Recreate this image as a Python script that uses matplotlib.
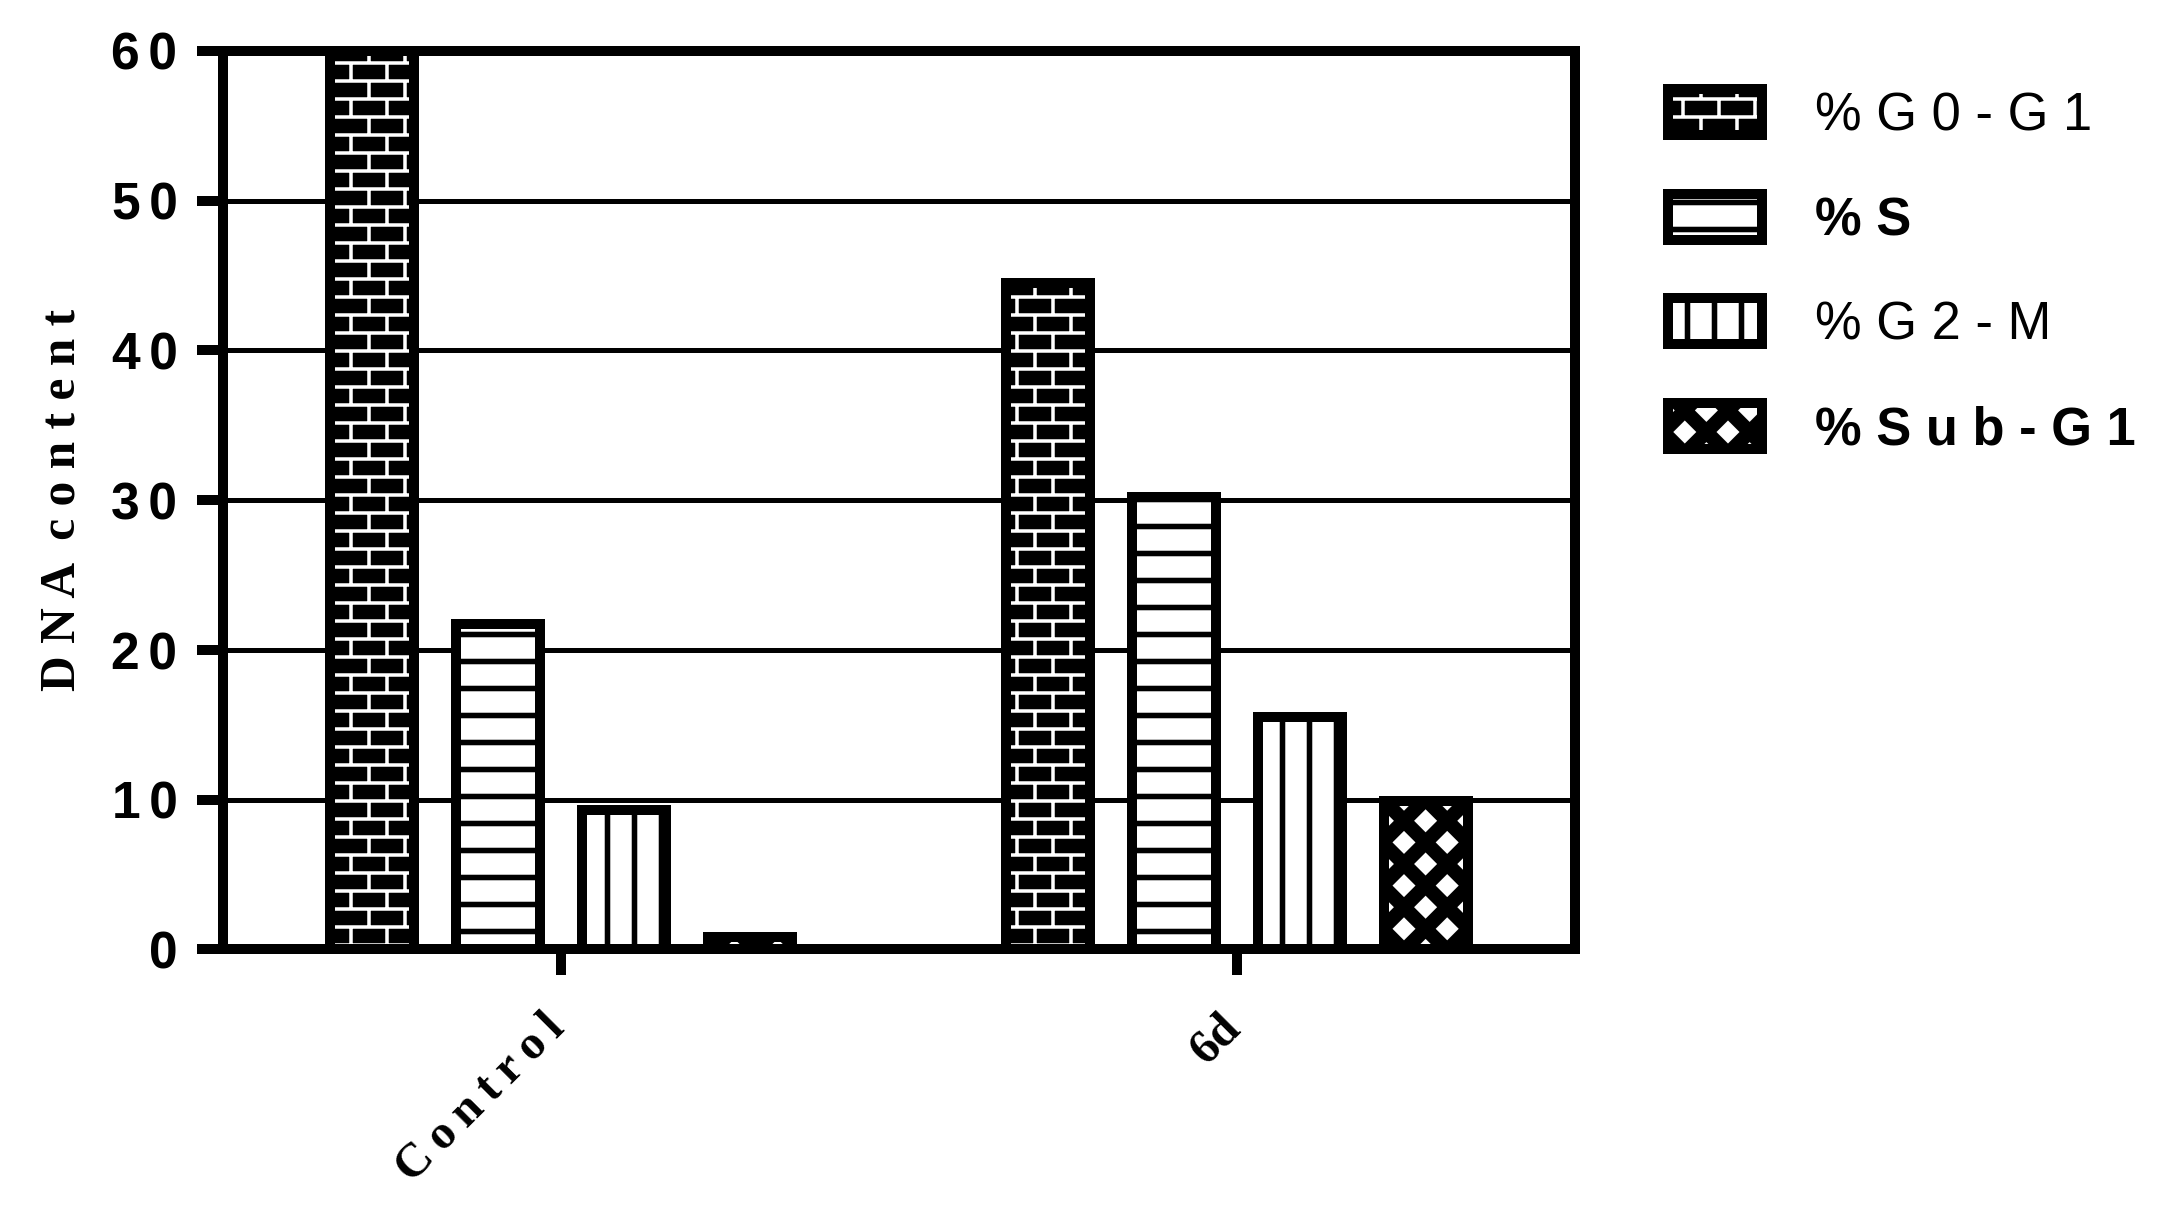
import warnings
import numpy as np
import matplotlib
matplotlib.use('Agg')
import matplotlib.pyplot as plt
from matplotlib import hatch as mhatch
from matplotlib.path import Path
from matplotlib.transforms import ScaledTranslation

warnings.filterwarnings('ignore', message='.*hatch.*')

# ---------------- data ----------------
groups = ['C\u2009o\u2009n\u2009t\u2009r\u2009o\u2009l', '6d']
series = ['% G 0 - G 1', '% S', '% G 2 - M', '% S u b - G 1']
g0g1 = [60.0, 44.5]
s_phase = [21.7, 30.2]
g2m = [9.3, 15.5]
subg1 = [0.8, 9.9]
y_ticks = [0, 10, 20, 30, 40, 50, 60]
y_tick_labels = ['0', '1\u20060', '2\u20060', '3\u20060', '4\u20060', '5\u20060', '6\u20060']
y_label = 'D N A  c o n t e n t'

# ---------------- custom hatch patterns ----------------
DPI = 216
TILE = float(DPI)


def _rect(x0, y0, x1, y1):
    return [(x0, y0), (x1, y0), (x1, y1), (x0, y1)]


class _PolyHatch(mhatch.HatchPatternBase):
    key = ''

    def __init__(self, hatch, density):
        self.polys = self.build() if (hatch and self.key in hatch) else []
        self.num_vertices = sum(len(p) + 1 for p in self.polys)

    def build(self):
        return []

    def set_vertices_and_codes(self, vertices, codes):
        i = 0
        for p in self.polys:
            n = len(p)
            vertices[i:i + n] = p
            vertices[i + n] = p[0]
            codes[i] = Path.MOVETO
            codes[i + 1:i + n] = Path.LINETO
            codes[i + n] = Path.CLOSEPOLY
            i += n + 1


class BrickHatch(_PolyHatch):
    key = 'B'

    def build(self):
        rows, cols = 12, 6
        h = 1.75 / TILE
        polys = []
        for j in range(rows + 1):
            y = (j + 0.5) / rows
            polys.append(_rect(-0.01, y - h, 1.01, y + h))
        for j in range(-1, rows):
            y0 = (j + 0.5) / rows
            y1 = (j + 1.5) / rows
            off = 0.5 * (j % 2)
            for i in range(-1, cols + 1):
                xx = (i + off + 0.25) / cols
                polys.append(_rect(xx - h, y0, xx + h, y1))
        return polys


class HLineHatch(_PolyHatch):
    key = 'H'

    def build(self):
        n, h = 8, 2.75 / TILE
        return [_rect(-0.01, (k + 0.5) / n - h, 1.01, (k + 0.5) / n + h) for k in range(n)]


class VLineHatch(_PolyHatch):
    key = 'V'

    def build(self):
        n, h = 8, 2.75 / TILE
        return [_rect((k + 0.5) / n - h, -0.01, (k + 0.5) / n + h, 1.01) for k in range(n)]


class DiamondHatch(_PolyHatch):
    key = 'D'

    def build(self):
        n, r = 5, 11.5 / TILE
        polys = []
        for i in range(-1, n + 1):
            for j in range(-1, n + 1):
                for cx, cy in ((i / n, j / n), ((i + 0.5) / n, (j + 0.5) / n)):
                    polys.append([(cx + r, cy), (cx, cy + r), (cx - r, cy), (cx, cy - r)])
        return polys


mhatch._hatch_types.extend([BrickHatch, HLineHatch, VLineHatch, DiamondHatch])

plt.rcParams['hatch.linewidth'] = 0.01
plt.rcParams['font.family'] = ['Liberation Sans', 'DejaVu Sans']

# ---------------- figure ----------------
fig = plt.figure(figsize=(2169.2 / DPI, 1210.2 / DPI), dpi=DPI)
ax = fig.add_axes([0.1028, 0.2153, 0.6233, 0.7426])

EDGE_LW = 3.33
x = np.arange(len(groups))
step = 0.1864
width = 0.1243
styles = [('black', 'white', 'B'), ('white', 'black', 'H'),
          ('white', 'black', 'V'), ('black', 'white', 'D')]
handles = []
for k, (vals, (fc, hc, hp)) in enumerate(zip([g0g1, s_phase, g2m, subg1], styles)):
    pos = x + (k - 1.5) * step
    fill = ax.bar(pos, vals, width, facecolor=fc, edgecolor=hc, linewidth=0,
                  hatch=hp, zorder=2)
    edge = ax.bar(pos, vals, width, fill=False, edgecolor='black',
                  linewidth=EDGE_LW, zorder=2.2)
    handles.append((fill.patches[0], edge.patches[0]))

ax.set_xlim(-0.5, 1.5)
ax.set_ylim(0, 60)

serif = ['Liberation Serif', 'DejaVu Serif']
sans = ['Liberation Sans', 'DejaVu Sans']

ax.set_yticks(y_ticks, y_tick_labels, fontfamily=sans, fontweight='bold', fontsize=17.2)
ax.set_xticks(x, groups, fontfamily=serif, fontweight='bold', fontsize=16,
              rotation=45, ha='right', va='top')
ax.tick_params(axis='both', direction='out', length=8.67, width=3.33, color='black')
ax.tick_params(axis='y', pad=6.5)
ax.tick_params(axis='x', pad=10)

for s in ax.spines.values():
    s.set_linewidth(3.33)
    s.set_color('black')

ax.yaxis.grid(True, color='black', linewidth=1.67)
ax.xaxis.grid(False)
ax.set_axisbelow(True)

ax.set_ylabel(y_label, fontfamily=serif, fontweight='bold', fontsize=16.5)
ax.yaxis.set_label_coords(-0.119, 0.500)
ax.yaxis.label.set_rotation_mode('default')
ax.yaxis.label.set_va('center')

leg = ax.legend(handles, series, loc='upper left', bbox_to_anchor=(0.769, 0.926),
                bbox_transform=fig.transFigure, frameon=False,
                prop={'family': sans, 'size': 17.5},
                handlelength=1.79, handleheight=0.97, handletextpad=1.0,
                labelspacing=1.0, borderpad=0, borderaxespad=0)
for t, w in zip(leg.get_texts(), ['normal', 'bold', 'normal', 'bold']):
    t.set_fontweight(w)

for lbl in ax.get_xticklabels():
    lbl.set_transform(lbl.get_transform() + ScaledTranslation(4 / 72, 0, fig.dpi_scale_trans))

fig.savefig('out.png', dpi=DPI)
